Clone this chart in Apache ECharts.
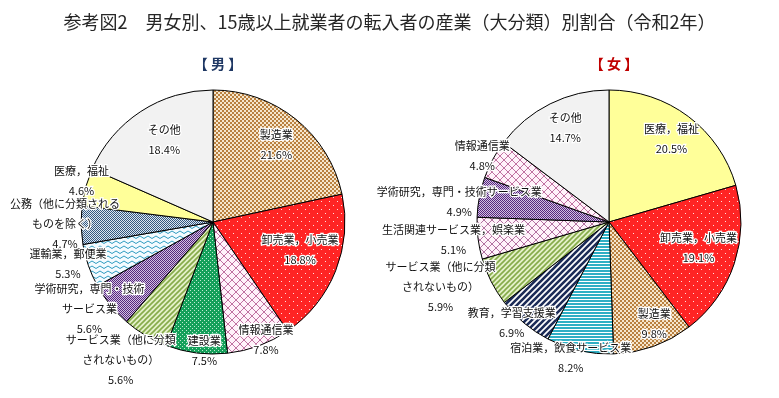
<!DOCTYPE html>
<html lang="ja">
<head>
  <meta charset="UTF-8">
  <title>男女別 転入者の産業別割合</title>
  <style>
    html, body { margin: 0; padding: 0; background: #fff; }
    #chart { width: 779px; height: 398px; }
  </style>
</head>
<body>
<div id="chart"></div>
<script src="https://cdn.jsdelivr.net/npm/echarts@6/dist/echarts.min.js"></script>
<script>
  // データ（令和2年，15歳以上就業者の転入者）
  const maleNames = ['製造業', '卸売業，小売業', '情報通信業', '建設業', 'サービス業（他に分類されないもの）',
    '学術研究，専門・技術サービス業', '運輸業，郵便業', '公務（他に分類されるものを除く）', '医療，福祉', 'その他'];
  const maleLabels = ['製造業', '卸売業，小売業', '情報通信業', '建設業', 'サービス業（他に分類\nされないもの）',
    '学術研究，専門・技術\nサービス業', '運輸業，郵便業', '公務（他に分類される\nものを除く）', '医療，福祉', 'その他'];
  const maleValues = [21.6, 18.8, 7.8, 7.5, 5.6, 5.6, 5.3, 4.7, 4.6, 18.4];

  const femaleNames = ['医療，福祉', '卸売業，小売業', '製造業', '宿泊業，飲食サービス業', '教育，学習支援業',
    'サービス業（他に分類されないもの）', '生活関連サービス業，娯楽業', '学術研究，専門・技術サービス業', '情報通信業', 'その他'];
  const femaleLabels = ['医療，福祉', '卸売業，小売業', '製造業', '宿泊業，飲食サービス業', '教育，学習支援業',
    'サービス業（他に分類\nされないもの）', '生活関連サービス業，娯楽業', '学術研究，専門・技術サービス業', '情報通信業', 'その他'];
  const femaleValues = [20.5, 19.1, 9.8, 8.2, 6.9, 5.9, 5.1, 4.9, 4.8, 14.7];

  // ラベル位置の微調整（inside 位置からのずれ）
  const maleOffsets = [[20, -24], [23, 2], [29, 53], [0, 60], [-57, 79], [-70, 43], [-80, 19], [-79, 0], [-65, -23], [-11, -24]];
  const femaleOffsets = [[21, -28], [24, 4], [22, 37], [-23, 69], [-53, 48], [-107, 34], [-87, 9], [-82, -7], [-66, -33], [-13, -32]];

  // 模様
  function pattern(w, h, draw) {
    const c = document.createElement('canvas');
    c.width = w; c.height = h;
    const g = c.getContext('2d');
    draw(g, w, h);
    return { image: c, repeat: 'repeat' };
  }
  function checker(a, b, cell) {
    return pattern(cell * 2, cell * 2, (g) => {
      g.fillStyle = a; g.fillRect(0, 0, cell * 2, cell * 2);
      g.fillStyle = b; g.fillRect(0, 0, cell, cell); g.fillRect(cell, cell, cell, cell);
    });
  }
  function diag(bg, fg, s, lw) {
    return pattern(s, s, (g) => {
      g.fillStyle = bg; g.fillRect(0, 0, s, s);
      g.strokeStyle = fg; g.lineWidth = lw;
      g.beginPath();
      g.moveTo(0, s); g.lineTo(s, 0);
      g.moveTo(-s / 2, s / 2); g.lineTo(s / 2, -s / 2);
      g.moveTo(s / 2, s * 1.5); g.lineTo(s * 1.5, s / 2);
      g.stroke();
    });
  }
  function hatch(bg, fg) {
    return pattern(8, 8, (g) => {
      g.fillStyle = bg; g.fillRect(0, 0, 8, 8);
      g.strokeStyle = fg; g.lineWidth = 0.8;
      g.beginPath(); g.moveTo(0, 0); g.lineTo(8, 8); g.moveTo(8, 0); g.lineTo(0, 8); g.stroke();
    });
  }

  const fills = {
    '製造業': checker('#f6e6cc', '#b9803f', 2),
    '卸売業，小売業': pattern(8, 8, (g) => {
      g.fillStyle = '#ff2424'; g.fillRect(0, 0, 8, 8);
      g.fillStyle = '#ffe0e0'; g.fillRect(1, 1, 1, 1); g.fillRect(5, 5, 1, 1);
    }),
    '情報通信業': hatch('#fff2fa', '#b0508a'),
    '生活関連サービス業，娯楽業': hatch('#fff2fa', '#a0508a'),
    '建設業': pattern(4, 4, (g) => {
      g.fillStyle = '#14a05a'; g.fillRect(0, 0, 4, 4);
      g.fillStyle = '#bfead2'; g.fillRect(0, 0, 1, 1); g.fillRect(2, 2, 1, 1);
    }),
    'サービス業（他に分類されないもの）': diag('#e4f0c8', '#86ab4a', 5, 1.6),
    '学術研究，専門・技術サービス業': checker('#d2c0e0', '#55277e', 1),
    '運輸業，郵便業': pattern(8, 5, (g) => {
      g.fillStyle = '#f4fbff'; g.fillRect(0, 0, 8, 5);
      g.strokeStyle = '#2f9cc0'; g.lineWidth = 1;
      g.beginPath(); g.moveTo(0, 3.5); g.lineTo(4, 1); g.lineTo(8, 3.5); g.stroke();
    }),
    '公務（他に分類されるものを除く）': checker('#dce6f0', '#34587f', 1),
    '医療，福祉': '#ffff99',
    '宿泊業，飲食サービス業': pattern(4, 3, (g) => {
      g.fillStyle = '#2fafc4'; g.fillRect(0, 0, 4, 3);
      g.fillStyle = '#ffffff'; g.fillRect(0, 2, 4, 1);
    }),
    '教育，学習支援業': diag('#ffffff', '#1c2c58', 6, 2.6),
    'その他': '#f2f2f2'
  };

  function buildData(names, labels, values) {
    return names.map((n, i) => ({
      name: n,
      value: values[i],
      label: { formatter: labels[i] + '\n' + values[i].toFixed(1) + '%' },
      itemStyle: { color: fills[n] }
    }));
  }

  function pieSeries(name, center, data, offsets) {
    return {
      name: name,
      type: 'pie',
      center: center,
      radius: 132,
      startAngle: 90,
      clockwise: true,
      silent: true,
      data: data,
      itemStyle: { borderColor: '#000', borderWidth: 1 },
      label: {
        position: 'inside',
        fontFamily: '"Noto Sans CJK JP", sans-serif',
        fontSize: 11,
        lineHeight: 20,
        color: '#111',
        textBorderColor: '#fff',
        textBorderWidth: 2.5,
        align: 'center'
      },
      labelLine: { show: false },
      labelLayout: function (p) {
        const o = offsets[p.dataIndex];
        return { dx: o[0], dy: o[1] };
      }
    };
  }

  const chart = echarts.init(document.getElementById('chart'));
  chart.setOption({
    animation: false,
    backgroundColor: '#fff',
    title: [
      {
        text: '参考図2　男女別、15歳以上就業者の転入者の産業（大分類）別割合（令和2年）',
        left: 'center', top: 8,
        textStyle: { fontFamily: '"Noto Sans CJK JP", sans-serif', fontSize: 18, fontWeight: 'normal', color: '#262626' }
      },
      {
        text: '【 男 】', left: 213, top: 52, textAlign: 'center',
        textStyle: { fontFamily: '"Noto Sans CJK JP", sans-serif', fontSize: 14, fontWeight: 'bold', color: '#1f3864' }
      },
      {
        text: '【 女 】', left: 609, top: 52, textAlign: 'center',
        textStyle: { fontFamily: '"Noto Sans CJK JP", sans-serif', fontSize: 14, fontWeight: 'bold', color: '#c00000' }
      }
    ],
    series: [
      pieSeries('男', [213, 222], buildData(maleNames, maleLabels, maleValues), maleOffsets),
      pieSeries('女', [609, 222], buildData(femaleNames, femaleLabels, femaleValues), femaleOffsets)
    ]
  });
</script>
</body>
</html>
